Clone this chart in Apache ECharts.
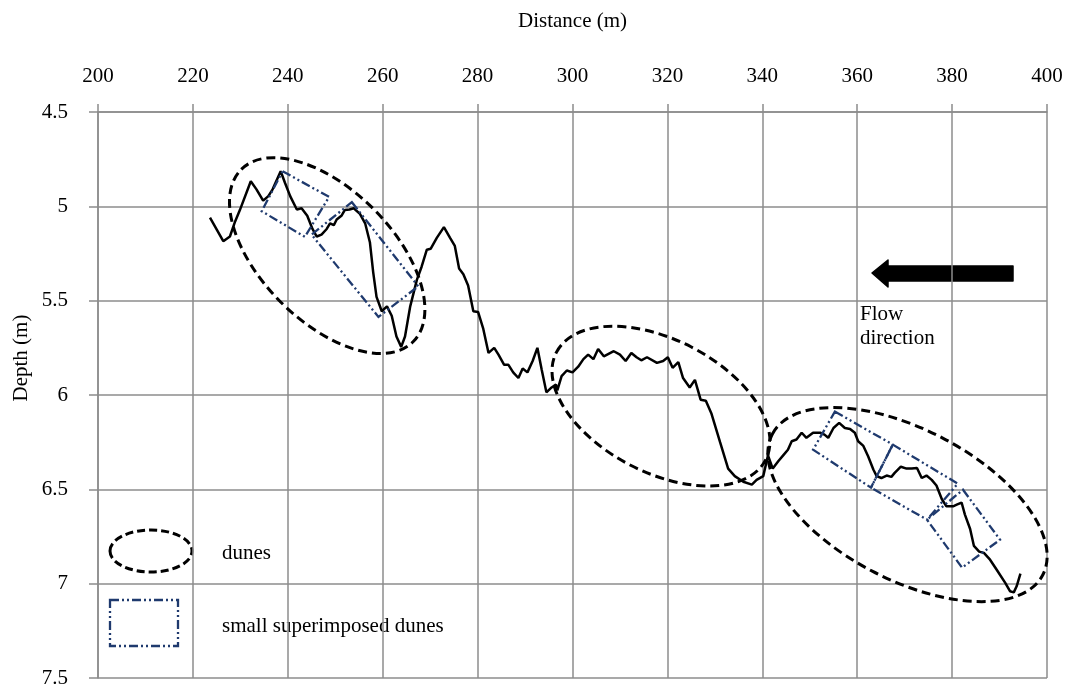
<!DOCTYPE html>
<html>
<head>
<meta charset="utf-8">
<title>Bed profile with dunes</title>
<script src="https://cdn.jsdelivr.net/npm/echarts@6/dist/echarts.min.js"></script>
<style>
  html, body { margin: 0; padding: 0; background: #fff; }
  #chart { width: 1074px; height: 689px; }
</style>
</head>
<body>
<div id="chart"></div>
<script>
// bed profile
const distance = [
  223.6, 226.4, 227.8, 228.9, 229.9, 232.2, 233.4, 234.8, 235.9, 236.8,
  238.5, 239.4, 240.5, 241.9, 242.9, 244.1, 245.2, 246.1, 247.1, 248.2,
  248.9, 249.7, 250.3, 251.3, 252.0, 253.0, 253.9, 255.2, 256.3, 257.3,
  258.0, 258.7, 259.8, 260.9, 261.9, 262.9, 263.9, 264.7, 265.8, 267.2,
  268.2, 269.3, 270.1, 271.4, 272.9, 274.2, 275.2, 276.1, 277.0, 278.0,
  279.1, 280.1, 281.2, 282.3, 283.5, 284.4, 285.6, 286.5, 287.5, 288.6,
  289.5, 290.5, 291.6, 292.6, 293.5, 294.5, 295.6, 296.5, 296.8, 297.7,
  298.8, 300.0, 301.2, 302.3, 303.3, 304.4, 305.4, 306.6, 308.7, 310.0,
  311.2, 312.4, 313.5, 314.5, 315.7, 317.8, 319.1, 320.1, 321.1, 322.3,
  323.3, 324.7, 325.8, 327.0, 328.1, 329.3, 331.1, 332.8, 334.2, 336.0,
  337.8, 338.8, 340.2, 341.2, 342.2, 343.4, 344.4, 345.4, 346.2, 347.2,
  348.3, 349.3, 350.7, 352.2, 353.1, 353.9, 355.0, 356.2, 357.4, 358.5,
  359.5, 360.2, 361.3, 362.3, 363.4, 364.1, 365.1, 366.2, 367.2, 367.9,
  369.2, 370.4, 371.5, 372.6, 373.6, 374.6, 375.7, 376.7, 377.8, 378.8,
  380.2, 381.1, 382.0, 382.7, 383.8, 384.6, 385.7, 386.7, 388.0, 389.4,
  391.2, 392.2, 393.0, 393.6, 394.4
];
const depth = [
  5.06, 5.185, 5.16, 5.08, 5.02, 4.867, 4.91, 4.97, 4.946, 4.91,
  4.814, 4.875, 4.946, 5.017, 5.01, 5.05, 5.12, 5.16, 5.15, 5.12,
  5.09, 5.10, 5.07, 5.05, 5.02, 5.017, 5.01, 5.04, 5.09, 5.19,
  5.35, 5.48, 5.556, 5.53, 5.58, 5.69, 5.745, 5.69, 5.53, 5.39,
  5.32, 5.23, 5.225, 5.167, 5.11, 5.167, 5.21, 5.33, 5.36, 5.42,
  5.556, 5.56, 5.65, 5.777, 5.75, 5.786, 5.84, 5.84, 5.88, 5.91,
  5.86, 5.88, 5.82, 5.75, 5.865, 5.986, 5.96, 5.945, 5.975, 5.90,
  5.87, 5.88, 5.85, 5.81, 5.786, 5.81, 5.756, 5.795, 5.768, 5.786,
  5.82, 5.777, 5.80, 5.816, 5.80, 5.83, 5.82, 5.80, 5.856, 5.826,
  5.91, 5.96, 5.92, 6.025, 6.03, 6.10, 6.25, 6.39, 6.43, 6.46,
  6.475, 6.45, 6.43, 6.32, 6.39, 6.35, 6.32, 6.29, 6.245, 6.236,
  6.20, 6.227, 6.20, 6.20, 6.21, 6.227, 6.175, 6.148, 6.175, 6.18,
  6.20, 6.245, 6.27, 6.325, 6.395, 6.43, 6.44, 6.427, 6.434, 6.413,
  6.38, 6.39, 6.39, 6.387, 6.44, 6.427, 6.45, 6.48, 6.55, 6.59,
  6.59, 6.58, 6.57, 6.634, 6.71, 6.80, 6.83, 6.837, 6.873, 6.926,
  6.996, 7.04, 7.046, 7.014, 6.947
];

// dune outlines: centre (x, depth), end of long axis (x, depth), short/long axis ratio
const duneCentre = [[248.3, 5.261], [318.65, 6.059], [370.6, 6.581]];
const duneAxisEnd = [[266.4, 5.718], [340.7, 6.344], [399.1, 6.954]];
const duneRatio = [0.54, 0.565, 0.494];

// small superimposed dunes: four corners each, (x, depth)
const smallDuneCorners = [
  [[238.9, 4.814], [248.7, 4.950], [243.6, 5.162], [234.5, 5.026]],
  [[253.5, 4.978], [267.5, 5.424], [259.1, 5.586], [245.0, 5.150]],
  [[355.3, 6.088], [367.5, 6.263], [362.9, 6.491], [350.7, 6.290]],
  [[367.5, 6.263], [381.2, 6.470], [374.7, 6.661], [362.9, 6.491]],
  [[382.3, 6.502], [390.1, 6.767], [382.1, 6.915], [374.7, 6.661]]
];

const FONT = '"Liberation Serif", "Times New Roman", serif';
const GRID_COLOR = '#8c8c8c';
const BOX_COLOR = '#1f3a6e';

const chart = echarts.init(document.getElementById('chart'));

const option = {
  animation: false,
  backgroundColor: '#fff',
  grid: { left: 98, right: 27, top: 112, bottom: 11 },
  xAxis: {
    type: 'value',
    position: 'top',
    min: 200,
    max: 400,
    interval: 20,
    name: 'Distance (m)',
    nameLocation: 'middle',
    nameGap: 80,
    nameTextStyle: { color: '#000', fontFamily: FONT, fontSize: 21 },
    axisLine: { show: true, lineStyle: { color: GRID_COLOR, width: 1.5 } },
    axisTick: { show: true, inside: false, length: 8, lineStyle: { color: GRID_COLOR, width: 1.5 } },
    axisLabel: { color: '#000', fontFamily: FONT, fontSize: 21, margin: 25 },
    splitLine: { show: true, lineStyle: { color: GRID_COLOR, width: 1.5 } }
  },
  yAxis: {
    type: 'value',
    inverse: true,
    min: 4.5,
    max: 7.5,
    interval: 0.5,
    axisLine: { show: true, lineStyle: { color: GRID_COLOR, width: 1.5 } },
    axisTick: { show: true, inside: false, length: 9, lineStyle: { color: GRID_COLOR, width: 1.5 } },
    axisLabel: { color: '#000', fontFamily: FONT, fontSize: 21, margin: 30 },
    splitLine: { show: true, lineStyle: { color: GRID_COLOR, width: 1.5 } }
  },
  series: [
    {
      name: 'profile',
      type: 'line',
      data: distance.map((d, i) => [d, depth[i]]),
      showSymbol: false,
      lineStyle: { color: '#000', width: 2.5 },
      z: 3
    },
    {
      name: 'dunes',
      type: 'custom',
      data: duneCentre.map((c, i) => [c[0], c[1], duneAxisEnd[i][0], duneAxisEnd[i][1], duneRatio[i]]),
      encode: { x: [0, 2], y: [1, 3] },
      renderItem: function (params, api) {
        const c = api.coord([api.value(0), api.value(1)]);
        const e = api.coord([api.value(2), api.value(3)]);
        const dx = e[0] - c[0], dy = e[1] - c[1];
        const a = Math.sqrt(dx * dx + dy * dy);
        return {
          type: 'ellipse',
          x: c[0],
          y: c[1],
          rotation: -Math.atan2(dy, dx),
          shape: { cx: 0, cy: 0, rx: a, ry: a * api.value(4) },
          style: { fill: null, stroke: '#000', lineWidth: 3, lineDash: [9, 5] }
        };
      },
      z: 4
    },
    {
      name: 'small superimposed dunes',
      type: 'custom',
      data: smallDuneCorners.map(box => box.flat()),
      encode: { x: [0, 2, 4, 6], y: [1, 3, 5, 7] },
      renderItem: function (params, api) {
        const pts = [];
        for (let k = 0; k < 4; k++) {
          pts.push(api.coord([api.value(2 * k), api.value(2 * k + 1)]));
        }
        return {
          type: 'polygon',
          shape: { points: pts },
          style: { fill: null, stroke: BOX_COLOR, lineWidth: 2.3, lineDash: [9, 3, 2, 3, 2, 3] }
        };
      },
      z: 4
    }
  ],
  graphic: [
    // y axis title
    {
      type: 'text', x: 21, y: 358, rotation: Math.PI / 2,
      style: { text: 'Depth (m)', font: '21px ' + FONT, fill: '#000', textAlign: 'center', textVerticalAlign: 'middle' }
    },
    // flow arrow
    {
      type: 'polygon',
      shape: { points: [[872, 273], [888, 260], [888, 266], [1013, 266], [1013, 281], [888, 281], [888, 287]] },
      style: { fill: '#000', stroke: '#000', lineWidth: 1.5, lineJoin: 'round' }
    },
    {
      type: 'text', x: 860, y: 326,
      style: { text: 'Flow\ndirection', font: '21px ' + FONT, fill: '#000', textAlign: 'left', textVerticalAlign: 'middle', lineHeight: 24 }
    },
    // legend
    {
      type: 'ellipse',
      shape: { cx: 151, cy: 551, rx: 41, ry: 21 },
      style: { fill: '#fff', stroke: '#000', lineWidth: 3, lineDash: [8, 4] }
    },
    {
      type: 'text', x: 222, y: 553,
      style: { text: 'dunes', font: '21px ' + FONT, fill: '#000', textAlign: 'left', textVerticalAlign: 'middle' }
    },
    {
      type: 'rect',
      shape: { x: 110, y: 600, width: 68, height: 46 },
      style: { fill: '#fff', stroke: BOX_COLOR, lineWidth: 2.3, lineDash: [9, 3, 2, 3, 2, 3] }
    },
    {
      type: 'text', x: 222, y: 626,
      style: { text: 'small superimposed dunes', font: '21px ' + FONT, fill: '#000', textAlign: 'left', textVerticalAlign: 'middle' }
    }
  ]
};

chart.setOption(option);
</script>
</body>
</html>
